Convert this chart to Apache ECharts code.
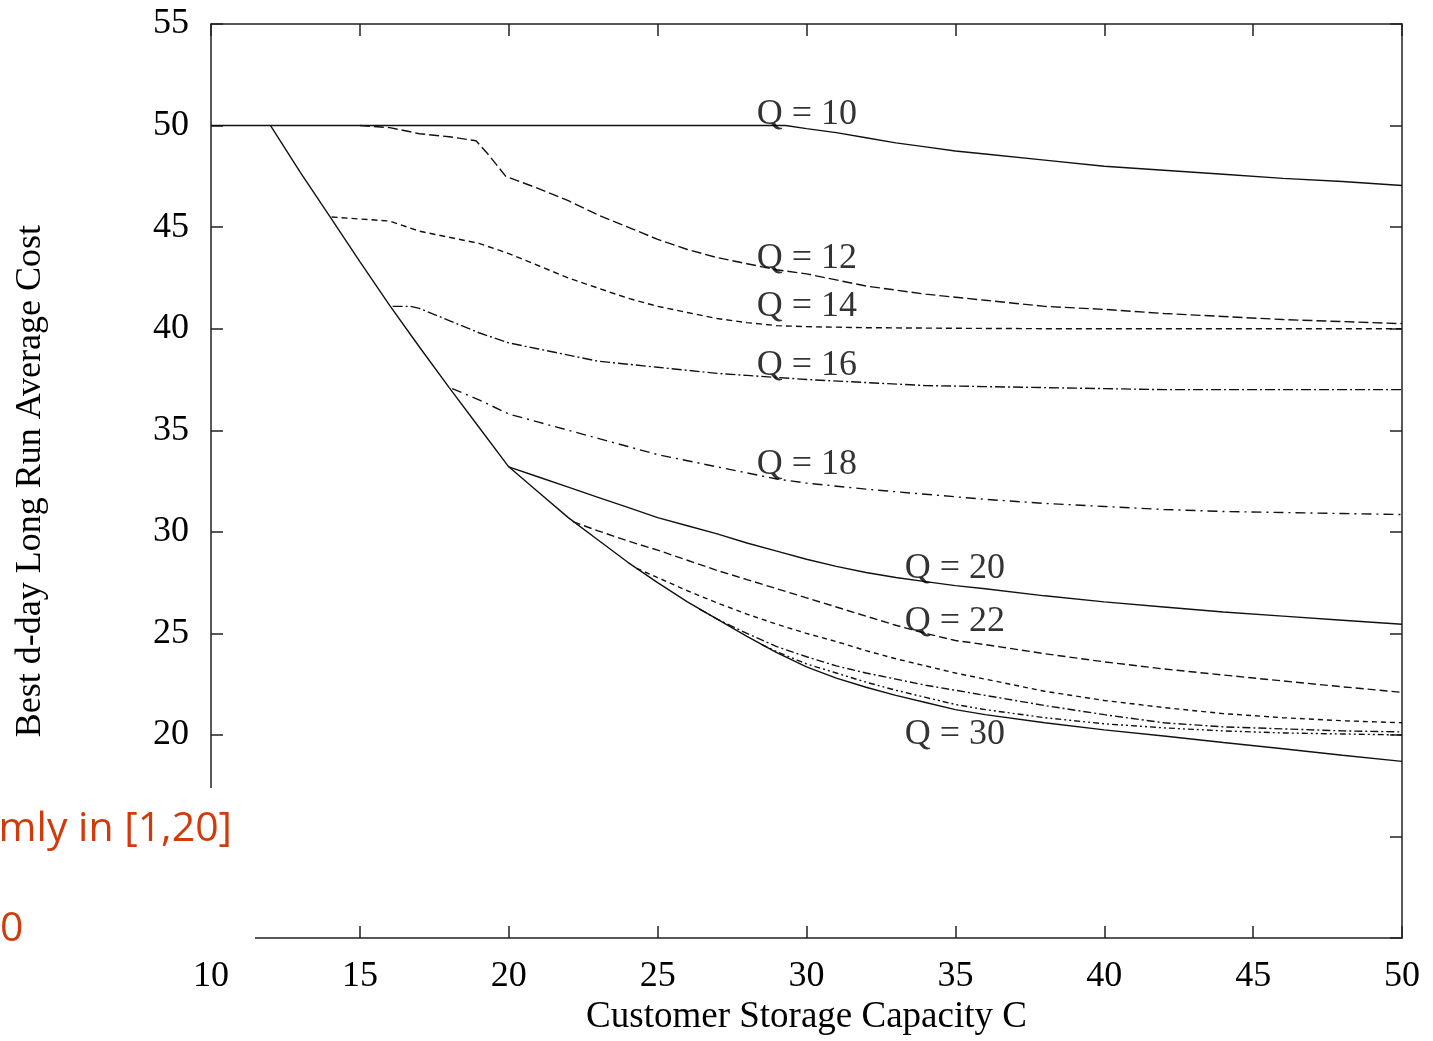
<!DOCTYPE html>
<html>
<head>
<meta charset="utf-8">
<script src="https://cdn.jsdelivr.net/npm/echarts@6/dist/echarts.min.js"></script>
<style>
html,body{margin:0;padding:0;background:#fff;}
#chart{width:1433px;height:1041px;}
</style>
</head>
<body>
<div id="chart"></div>
<script>
// ---- data (C, cost) ----
const q10 = [[10,50],[29.3,50],[30,49.85],[31,49.65],[32,49.4],[33,49.15],[34,48.95],[35,48.75],[36,48.6],[38,48.3],[40,48.0],[42,47.8],[44,47.6],[46,47.4],[48,47.25],[50,47.05]];
const q12 = [[15,50],[16,49.9],[17,49.6],[18,49.45],[18.9,49.25],[19.3,48.6],[19.9,47.5],[21,46.9],[22,46.3],[23,45.6],[24,45],[25,44.4],[26,43.9],[27,43.5],[28,43.2],[29,42.9],[30,42.7],[32,42.1],[34,41.7],[36,41.4],[38,41.1],[40,40.95],[42,40.75],[44,40.6],[46,40.45],[48,40.35],[50,40.25]];
const q14 = [[14.05,45.5],[15,45.4],[16,45.3],[17,44.8],[18,44.5],[19,44.2],[20,43.7],[21,43.1],[22,42.5],[23,42],[24,41.5],[25,41.1],[26,40.8],[27,40.5],[28,40.3],[29,40.15],[30,40.1],[32,40.05],[35,40.02],[38,40.0],[50,40.0]];
const q16 = [[16.1,41.1],[16.7,41.1],[17,41],[18,40.4],[19,39.8],[20,39.3],[21,39.0],[22,38.7],[23,38.4],[24,38.25],[25,38.1],[26,37.95],[27,37.8],[28,37.7],[29,37.6],[30,37.5],[32,37.35],[34,37.2],[36,37.15],[38,37.1],[40,37.05],[42,37.0],[50,37.0]];
const q18 = [[18.1,37.05],[19,36.5],[20,35.8],[21,35.4],[22,35],[23,34.6],[24,34.2],[25,33.8],[26,33.5],[27,33.2],[28,32.9],[29,32.6],[30,32.4],[32,32.1],[34,31.85],[36,31.6],[38,31.4],[40,31.25],[42,31.1],[44,31.0],[46,30.95],[48,30.9],[50,30.85]];
const q20 = [[20,33.2],[21,32.7],[22,32.2],[23,31.7],[24,31.2],[25,30.7],[26,30.3],[27,29.9],[28,29.45],[29,29.05],[30,28.65],[31,28.3],[32,28.0],[33,27.75],[34,27.55],[35,27.35],[36,27.2],[38,26.85],[40,26.55],[42,26.3],[44,26.05],[46,25.85],[48,25.65],[50,25.45]];
const q22 = [[22.15,30.5],[23,30.05],[24,29.55],[25,29.1],[26,28.6],[27,28.1],[28,27.65],[29,27.2],[30,26.75],[31,26.3],[32,25.85],[33,25.4],[34,25.0],[35,24.65],[36,24.45],[38,24.0],[40,23.6],[42,23.25],[44,22.95],[46,22.66],[48,22.37],[50,22.1]];
const q24 = [[24.3,28.2],[25,27.75],[26,27.1],[27,26.5],[28,25.95],[29,25.45],[30,25.0],[31,24.6],[32,24.15],[33,23.75],[34,23.4],[35,23.05],[36,22.75],[38,22.15],[40,21.7],[42,21.35],[44,21.05],[46,20.85],[48,20.7],[50,20.6]];
const q26 = [[26.4,26.2],[27,25.7],[28,25.0],[29,24.35],[30,23.85],[31,23.4],[32,23.05],[33,22.75],[34,22.45],[35,22.2],[36,21.95],[38,21.45],[40,21.0],[42,20.6],[44,20.4],[46,20.3],[48,20.2],[50,20.15]];
const q28 = [[28.5,24.45],[29,24.1],[30,23.5],[31,23.05],[32,22.6],[33,22.2],[34,21.85],[35,21.5],[36,21.25],[38,20.85],[40,20.55],[42,20.35],[44,20.2],[46,20.1],[48,20.05],[50,20.0]];
const q30 = [[12,50],[13,47.7],[14,45.5],[15,43.3],[16,41.15],[17,39.1],[18,37.1],[19,35.15],[20,33.2],[21,31.95],[22,30.7],[23,29.6],[24,28.5],[25,27.5],[26,26.55],[27,25.7],[28,24.85],[29,24.05],[30,23.35],[31,22.8],[32,22.35],[33,21.95],[34,21.6],[35,21.25],[36,21.0],[38,20.6],[40,20.25],[42,19.95],[44,19.63],[46,19.32],[48,19.0],[50,18.7]];

const seriesNames = ['Q = 10','Q = 12','Q = 14','Q = 16','Q = 18','Q = 20','Q = 22','Q = 24','Q = 26','Q = 28','Q = 30'];
const seriesData = [q10,q12,q14,q16,q18,q20,q22,q24,q26,q28,q30];

// curve labels (text, C, cost)
const labelText = ['Q = 10','Q = 12','Q = 14','Q = 16','Q = 18','Q = 20','Q = 22','Q = 30'];
const labelX = [28.33,28.33,28.33,28.33,28.33,33.3,33.3,33.3];
const labelY = [50.55,43.45,41.1,38.2,33.3,28.2,25.6,20.0];

const xTicks = {min:10, max:50, interval:5};
const yTicks = {min:10, max:55, interval:5};

// ---- styles ----
const dashStyles = ['solid',[10,4],[6,4],[10,3,2,3],[10,5,2,5],'solid',[8,4],[5,4],[8,3,2,3],[6,3,2,3,2,3],'solid'];
const FONT = "'Liberation Serif','Times New Roman',serif";
const INK = '#000';

const series = seriesData.map((d,i)=>({
  name: seriesNames[i],
  type:'line',
  data:d,
  showSymbol:false,
  symbol:'none',
  smooth:false,
  lineStyle:{color:'#111',width:1.4,type:dashStyles[i]},
  z:2
}));
series.push({
  type:'scatter',
  data: labelText.map((t,i)=>[labelX[i],labelY[i],t]),
  symbolSize:0,
  label:{show:true,position:'right',distance:0,formatter:p=>p.data[2],
         fontFamily:FONT,fontSize:36,color:INK},
  z:3,
  silent:true
});

const axisCommon = {
  type:'value',
  axisLine:{show:true,onZero:false,lineStyle:{color:'#222',width:1.5}},
  axisTick:{show:true,inside:true,length:12,lineStyle:{color:'#222',width:1.5}},
  splitLine:{show:false}
};

const chart = echarts.init(document.getElementById('chart'),null,{renderer:'canvas'});
chart.setOption({
  animation:false,
  backgroundColor:'#fff',
  grid:{left:211,right:31,top:24,bottom:95,containLabel:false},
  xAxis:[
    Object.assign({},axisCommon,{position:'bottom',min:xTicks.min,max:xTicks.max,interval:xTicks.interval,
      name:'Customer Storage Capacity C',nameLocation:'middle',nameGap:56,
      nameTextStyle:{fontFamily:FONT,fontSize:37,color:INK},
      axisLabel:{fontFamily:FONT,fontSize:36,color:INK,margin:20}}),
    Object.assign({},axisCommon,{position:'top',min:xTicks.min,max:xTicks.max,interval:xTicks.interval,
      axisLabel:{show:false}})
  ],
  yAxis:[
    Object.assign({},axisCommon,{position:'left',min:yTicks.min,max:yTicks.max,interval:yTicks.interval,
      name:'Best d-day Long Run Average Cost',nameLocation:'middle',nameGap:162,
      nameTextStyle:{fontFamily:FONT,fontSize:36,color:INK},
      axisLabel:{fontFamily:FONT,fontSize:36,color:INK,margin:22}}),
    Object.assign({},axisCommon,{position:'right',min:yTicks.min,max:yTicks.max,interval:yTicks.interval,
      axisLabel:{show:false}})
  ],
  series:series,
  graphic:[
    {type:'rect',left:0,top:788,shape:{width:255,height:174},style:{fill:'#ffffff'},z:100},
    {type:'text',right:1433-232,top:809,style:{text:'mly in [1,20]',fontFamily:"'Open Sans','Noto Sans',sans-serif",fontSize:41,fill:'#d13b0b'},z:101},
    {type:'text',left:0,top:909,style:{text:'0',fontFamily:"'Open Sans','Noto Sans',sans-serif",fontSize:41,fill:'#d13b0b'},z:101}
  ]
});
</script>
</body>
</html>
